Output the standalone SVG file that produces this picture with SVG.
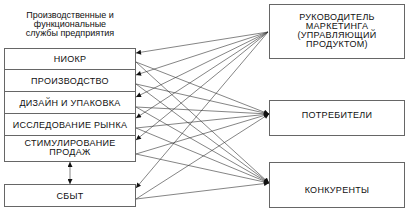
<svg xmlns="http://www.w3.org/2000/svg" width="408" height="210" viewBox="0 0 408 210">
<defs>
<marker id="ah" viewBox="0 0 10 10" refX="10" refY="5" markerWidth="6" markerHeight="5" orient="auto-start-reverse" markerUnits="userSpaceOnUse">
<path d="M0,0 L10,5 L0,10 z" fill="#111"/>
</marker>
<style>
.box{fill:#fff;stroke:#666;stroke-width:1}
.t{font-family:"Liberation Sans",Arial,sans-serif;font-size:9px;fill:#111;text-anchor:middle;letter-spacing:0.3px}
.h{font-family:"Liberation Sans",Arial,sans-serif;font-size:9px;fill:#111;text-anchor:middle}
.c{stroke:#333;stroke-width:0.6;fill:none}
</style>
</defs>
<rect width="408" height="210" fill="#fff"/>
<g id="header">
<text class="h" x="70" y="18">Производственные и</text>
<text class="h" x="70" y="27">функциональные</text>
<text class="h" x="70" y="36">службы предприятия</text>
</g>
<g id="n-niokr"><rect class="box" x="4.5" y="48.5" width="131" height="21"/><text class="t" x="70" y="62">НИОКР</text></g>
<g id="n-proizv"><rect class="box" x="4.5" y="69.5" width="131" height="22"/><text class="t" x="70" y="84">ПРОИЗВОДСТВО</text></g>
<g id="n-dizain"><rect class="box" x="4.5" y="91.5" width="131" height="22"/><text class="t" x="70" y="106">ДИЗАЙН И УПАКОВКА</text></g>
<g id="n-issled"><rect class="box" x="4.5" y="113.5" width="131" height="22"/><text class="t" x="70" y="128">ИССЛЕДОВАНИЕ РЫНКА</text></g>
<g id="n-stim"><rect class="box" x="4.5" y="135.5" width="131" height="26"/><text class="t" x="70" y="146">СТИМУЛИРОВАНИЕ</text><text class="t" x="70" y="155">ПРОДАЖ</text></g>
<g id="n-sbyt"><rect class="box" x="4.5" y="184.5" width="131" height="22"/><text class="t" x="70" y="199">СБЫТ</text></g>
<g id="n-ruk"><rect class="box" x="269.5" y="4.5" width="135" height="54"/>
<text class="t" x="337" y="20">РУКОВОДИТЕЛЬ</text><text class="t" x="337" y="29">МАРКЕТИНГА</text><text class="t" x="337" y="38">(УПРАВЛЯЮЩИЙ</text><text class="t" x="337" y="47">ПРОДУКТОМ)</text></g>
<g id="n-potr"><rect class="box" x="269.5" y="100.5" width="135" height="35"/><text class="t" x="337" y="118">ПОТРЕБИТЕЛИ</text></g>
<g id="n-konk"><rect class="box" x="269.5" y="162.5" width="135" height="45"/><text class="t" x="337" y="193">КОНКУРЕНТЫ</text></g>
<g id="connectors">
<line class="c" x1="268" y1="32" x2="136" y2="53" marker-end="url(#ah)"/>
<line class="c" x1="268" y1="32" x2="136" y2="75" marker-end="url(#ah)"/>
<line class="c" x1="268" y1="32" x2="136" y2="97" marker-end="url(#ah)"/>
<line class="c" x1="268" y1="32" x2="136" y2="118" marker-end="url(#ah)"/>
<line class="c" x1="268" y1="32" x2="136" y2="140" marker-end="url(#ah)"/>
<line class="c" x1="268" y1="32" x2="136" y2="188" marker-end="url(#ah)"/>
<line class="c" x1="136" y1="62" x2="269" y2="114" marker-end="url(#ah)"/>
<line class="c" x1="136" y1="84" x2="269" y2="114" marker-end="url(#ah)"/>
<line class="c" x1="136" y1="107" x2="269" y2="114" marker-end="url(#ah)"/>
<line class="c" x1="136" y1="128" x2="269" y2="114" marker-end="url(#ah)"/>
<line class="c" x1="136" y1="154" x2="269" y2="114" marker-end="url(#ah)"/>
<line class="c" x1="136" y1="199" x2="269" y2="114" marker-end="url(#ah)"/>
<line class="c" x1="136" y1="62" x2="269" y2="183" marker-end="url(#ah)"/>
<line class="c" x1="136" y1="84" x2="269" y2="183" marker-end="url(#ah)"/>
<line class="c" x1="136" y1="107" x2="269" y2="183" marker-end="url(#ah)"/>
<line class="c" x1="136" y1="128" x2="269" y2="183" marker-end="url(#ah)"/>
<line class="c" x1="136" y1="154" x2="269" y2="183" marker-end="url(#ah)"/>
<line class="c" x1="136" y1="199" x2="269" y2="183" marker-end="url(#ah)"/>
<line class="c" x1="70" y1="162" x2="70" y2="184" marker-start="url(#ah)" marker-end="url(#ah)"/>
</g>
</svg>
